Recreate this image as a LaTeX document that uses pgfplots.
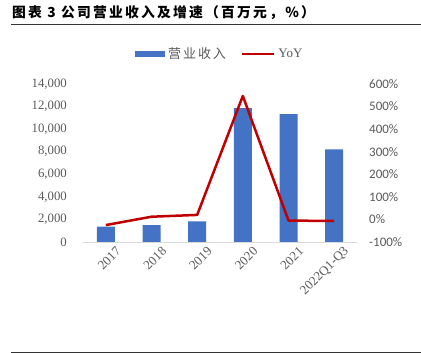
\documentclass[border=0pt]{standalone}
\usepackage{pgfplots}
\pgfplotsset{compat=1.18}
\usepackage{fontspec}
\setmainfont{Liberation Serif}
\newfontfamily\cjk{Noto Sans CJK SC}
\newfontfamily\cjkt{Noto Sans CJK SC}[LetterSpace=16]
\newfontfamily\cjkl{Noto Sans CJK SC}[LetterSpace=15]
\newfontfamily\calfont{Carlito}
\definecolor{barblue}{HTML}{4472C4}
\definecolor{linered}{HTML}{C00000}
\definecolor{txtgray}{HTML}{595959}
\pgfplotstableread{
x rev yoy
0 1360 -25
1 1500 12
2 1830 20
3 11870 547
4 11340 -5
5 8210 -7
}\datatable
\begin{document}
\begin{tikzpicture}[x=1bp,y=1bp]
\useasboundingbox (0,0) rectangle (421,353);
\node[anchor=west, inner sep=0] at (12,340.5) {\cjkt\bfseries\fontsize{13.8bp}{16bp}\selectfont 图表 3 公司营业收入及增速（百万元，\%）};
\draw[line width=1bp, black!80] (11,328.5) -- (421,328.5);
\draw[line width=1bp, black!80] (11,0.6) -- (421,0.6);
\begin{axis}[
  at={(83bp,111bp)}, anchor=south west, scale only axis,
  width=274bp, height=158bp,
  xmin=-0.5, xmax=5.5, ymin=0, ymax=14000,
  ytick={0,2000,...,14000},
  xtick={0,...,5},
  xticklabels={2017,2018,2019,2020,2021,2022Q1-Q3},
  axis x line*=bottom, axis y line*=left,
  x axis line style={draw=black!15, line width=0.8bp, -},
  y axis line style={draw=none},
  major tick length=0pt,
  scaled y ticks=false,
  /pgf/number format/.cd, 1000 sep={,}, assume math mode=true, /pgfplots/.cd,
  yticklabel style={font=\fontsize{12.8bp}{14bp}\selectfont, text=txtgray, inner sep=0pt, xshift=-16bp},
  xticklabel style={font=\fontsize{13bp}{15bp}\selectfont, text=txtgray, rotate=45, anchor=east, inner sep=0pt, xshift=4bp, yshift=-14bp},
  legend style={at={(0.5,1.19)}, anchor=center, draw=none, fill=none,
    font=\fontsize{13bp}{15bp}\selectfont, text=txtgray,
    /tikz/every even column/.append style={column sep=12bp},
    nodes={inner xsep=3bp}},
  legend columns=2,
]
\addplot[ybar, bar width=18bp, fill=barblue, draw=none,
  legend image code/.code={\fill[barblue] (0bp,-2.85bp) rectangle (30.6bp,2.85bp);}]
  table[x=x, y=rev] {\datatable};
\addlegendentry{\cjkl 营业收入}
\addlegendimage{linered, line width=2.5bp, legend image code/.code={\draw[linered, line width=2.5bp] (0bp,0bp) -- (32bp,0bp);}}
\addlegendentry{YoY}
\end{axis}
\begin{axis}[
  at={(83bp,111bp)}, anchor=south west, scale only axis,
  width=274bp, height=158bp,
  xmin=-0.5, xmax=5.5, ymin=-100, ymax=600,
  ytick={-100,0,...,600},
  axis x line=none, axis y line*=right,
  y axis line style={draw=none},
  major tick length=0pt,
  yticklabel={\pgfmathprintnumber{\tick}\%},
  /pgf/number format/.cd, assume math mode=true, /pgfplots/.cd,
  yticklabel style={font=\calfont\fontsize{13bp}{15bp}\selectfont, text=txtgray, inner sep=0pt, anchor=west, xshift=12bp},
]
\addplot[linered, line width=2.5bp, line join=round] table[x=x, y=yoy] {\datatable};
\end{axis}
\end{tikzpicture}
\end{document}
